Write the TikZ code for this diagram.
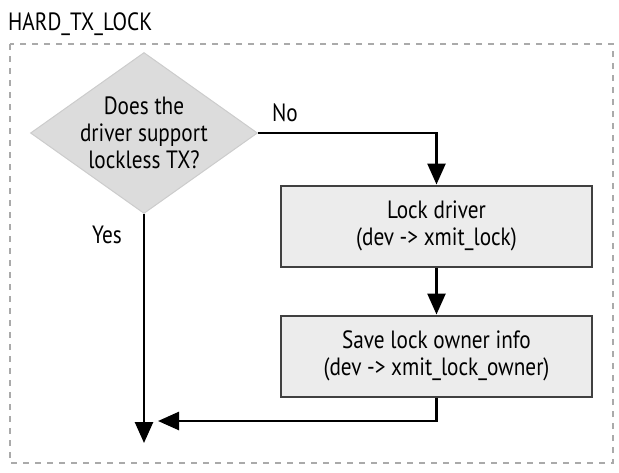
\documentclass[tikz,border=0pt]{standalone}
\usepackage{fontspec}
\setmainfont{PT Sans}[FakeStretch=0.85]
\usetikzlibrary{shapes.geometric,arrows.meta,positioning}
\definecolor{boxfill}{HTML}{ECECEC}
\definecolor{decfill}{HTML}{DCDCDC}
\definecolor{framegray}{HTML}{AAAAAA}
\tikzset{
  stepbox/.style={draw=black!75, line width=2pt, fill=boxfill, minimum width=311pt,
    minimum height=81pt, align=center, inner sep=0pt},
  decision/.style={diamond, draw=black!20, line width=1pt, fill=decfill, aspect=1.41,
    minimum width=227pt, minimum height=161pt, inner sep=-10pt, align=center},
  flow/.style={line width=2.6pt, -{Triangle[width=18pt,length=21pt]}},
  label/.style={inner sep=0pt}
}
\begin{document}
\begin{tikzpicture}[x=1pt, y=-1pt, font=\fontsize{25}{27}\selectfont]
  \useasboundingbox (0,0) rectangle (619,472);

  % Rahmen
  \node[label, anchor=west] (title) at (8,24) {HARD\_TX\_LOCK};
  \draw[framegray, line width=2pt, dash pattern=on 6pt off 6pt] (10,44) rectangle (613,463);

  % Knoten
  \node[decision] (lockless) at (144,133) {Does the\\driver support\\lockless TX?};
  \node[stepbox] (lockdrv) at (436.5,226) {Lock driver\\(dev -> xmit\_lock)};
  \node[stepbox] (owner) at (436.5,356) {Save lock owner info\\(dev -> xmit\_lock\_owner)};

  \node[label] (no) at (285,113) {No};
  \node[label] (yes) at (107,235) {Yes};

  \coordinate (merge) at (158,421);
  \coordinate (out) at (144,443);

  % Verbindungen
  \draw[flow] (lockless.east) -| (lockdrv.north);
  \draw[flow] (lockdrv) -- (owner);
  \draw[flow] (owner.south) |- (merge);
  \draw[flow] (lockless.south) -- (out);
\end{tikzpicture}
\end{document}
